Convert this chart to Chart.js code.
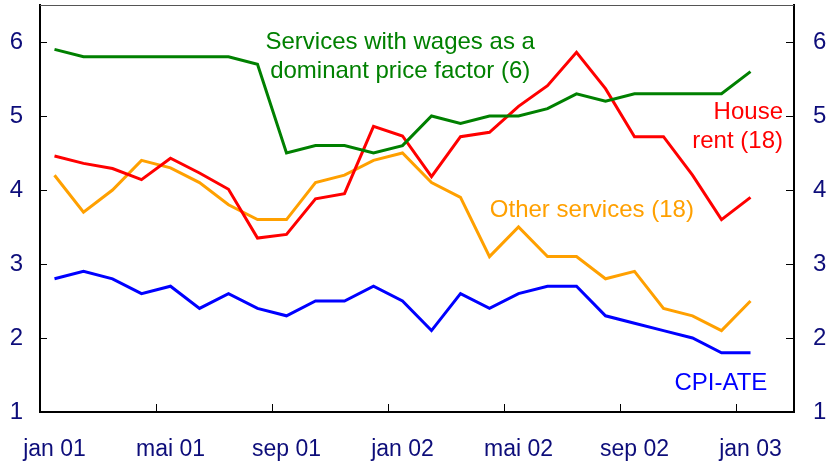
<!DOCTYPE html>
<html>
<head>
<meta charset="utf-8">
<script src="https://cdn.jsdelivr.net/npm/chart.js@4"></script>
<style>
  html, body { margin: 0; padding: 0; background: #fff; }
</style>
</head>
<body>
<canvas id="chart" width="828" height="463"></canvas>
<script>
// months on the x axis (last one is only room on the right)
const months = [
    'jan 01', 'feb 01', 'mar 01', 'apr 01', 'mai 01', 'jun 01', 'jul 01', 'aug 01', 'sep 01', 'okt 01', 'nov 01', 'des 01',
    'jan 02', 'feb 02', 'mar 02', 'apr 02', 'mai 02', 'jun 02', 'jul 02', 'aug 02', 'sep 02', 'okt 02', 'nov 02', 'des 02',
    'jan 03', 'feb 03'
];
const wagesServices = [5.9, 5.8, 5.8, 5.8, 5.8, 5.8, 5.8, 5.7, 4.5, 4.6, 4.6, 4.5, 4.6, 5.0, 4.9, 5.0, 5.0, 5.1, 5.3, 5.2, 5.3, 5.3, 5.3, 5.3, 5.6];
const houseRent = [4.46, 4.36, 4.29, 4.14, 4.43, 4.23, 4.01, 3.35, 3.4, 3.88, 3.95, 4.86, 4.73, 4.18, 4.72, 4.78, 5.13, 5.41, 5.86, 5.37, 4.72, 4.72, 4.2, 3.6, 3.9];
const otherServices = [4.2, 3.7, 4.0, 4.4, 4.3, 4.1, 3.8, 3.6, 3.6, 4.1, 4.2, 4.4, 4.5, 4.1, 3.9, 3.1, 3.5, 3.1, 3.1, 2.8, 2.9, 2.4, 2.3, 2.1, 2.5];
const cpiAte = [2.8, 2.9, 2.8, 2.6, 2.7, 2.4, 2.6, 2.4, 2.3, 2.5, 2.5, 2.7, 2.5, 2.1, 2.6, 2.4, 2.6, 2.7, 2.7, 2.3, 2.2, 2.1, 2.0, 1.8, 1.8];
const yTicks = [1, 2, 3, 4, 5, 6];
const labelEvery = 4;

const navy = '#0d0d7a';
const fontFamily = '"Liberation Sans", Arial, sans-serif';

// text labels placed in data units (x = month index, y = value)
const notes = [
    { lines: ['Services with wages as a', 'dominant price factor (6)'], x: 11.92, y: 5.99, color: '#008000', align: 'center' },
    { lines: ['House', 'rent (18)'], x: 25.12, y: 5.05, color: '#ff0000', align: 'right' },
    { lines: ['Other services (18)'], x: 18.53, y: 3.73, color: '#ffa000', align: 'center' },
    { lines: ['CPI-ATE'], x: 22.98, y: 1.39, color: '#0000ff', align: 'center' }
];

const tickMarks = {
    id: 'tickMarks',
    afterDatasetsDraw(chart) {
        const { ctx, chartArea, scales } = chart;
        ctx.save();
        // thin top border
        ctx.strokeStyle = '#555';
        ctx.lineWidth = 1;
        ctx.beginPath();
        ctx.moveTo(chartArea.left, chartArea.top + 0.5);
        ctx.lineTo(chartArea.right, chartArea.top + 0.5);
        ctx.stroke();

        ctx.strokeStyle = '#000';
        const x = scales.x;
        const half = (x.getPixelForValue(1) - x.getPixelForValue(0)) / 2;
        months.forEach((m, i) => {
            if (i === 0 || i % labelEvery !== 0) return;
            const px = Math.round(x.getPixelForValue(i) - half) + 0.5;
            ctx.beginPath();
            ctx.moveTo(px, chartArea.bottom);
            ctx.lineTo(px, chartArea.bottom - 8);
            ctx.stroke();
        });
        yTicks.forEach(v => {
            const py = Math.round(scales.y.getPixelForValue(v)) + 0.5;
            ctx.beginPath();
            ctx.moveTo(chartArea.left, py);
            ctx.lineTo(chartArea.left + 7, py);
            ctx.moveTo(chartArea.right, py);
            ctx.lineTo(chartArea.right - 8, py);
            ctx.stroke();
        });
        ctx.restore();
    }
};

const noteLabels = {
    id: 'noteLabels',
    afterDatasetsDraw(chart) {
        const { ctx, scales } = chart;
        ctx.save();
        ctx.font = '24px ' + fontFamily;
        ctx.textBaseline = 'middle';
        notes.forEach(n => {
            const px = scales.x.getPixelForValue(n.x);
            const py = scales.y.getPixelForValue(n.y);
            ctx.fillStyle = n.color;
            ctx.textAlign = n.align;
            n.lines.forEach((t, k) => ctx.fillText(t, px, py + k * 29));
        });
        ctx.restore();
    }
};

const makeSet = (data, color) => ({
    data: data,
    borderColor: color,
    backgroundColor: color,
    borderWidth: 3,
    pointRadius: 0,
    tension: 0,
    fill: false,
    yAxisID: 'y'
});

const fitY = (width) => (scale) => {
    scale.width = width;
    scale.paddingTop = 0;
    scale.paddingBottom = 0;
};

const ctx = document.getElementById('chart');
new Chart(ctx, {
    type: 'line',
    data: {
        labels: months,
        datasets: [
            makeSet(wagesServices, '#008000'),
            makeSet(houseRent, '#ff0000'),
            makeSet(otherServices, '#ffa000'),
            makeSet(cpiAte, '#0000ff')
        ]
    },
    options: {
        responsive: false,
        devicePixelRatio: 1,
        animation: false,
        layout: { padding: { top: 5, left: 0, right: 0, bottom: 0 } },
        plugins: { legend: { display: false }, tooltip: { enabled: false } },
        scales: {
            x: {
                type: 'category',
                offset: true,
                grid: { display: false, drawTicks: false },
                border: { display: true, color: '#000', width: 2 },
                afterFit: (scale) => {
                    scale.height = 51;
                    scale.paddingLeft = 0;
                    scale.paddingRight = 0;
                },
                ticks: {
                    autoSkip: false,
                    maxRotation: 0,
                    padding: 24,
                    color: navy,
                    font: { family: fontFamily, size: 23 },
                    callback: function (value, index) {
                        return index % labelEvery === 0 && index < months.length - 1 ? this.getLabelForValue(value) : '';
                    }
                }
            },
            y: {
                position: 'left',
                min: 1,
                max: 6.5,
                grid: { display: false, drawTicks: false },
                border: { display: true, color: '#000', width: 2 },
                afterFit: fitY(40),
                afterBuildTicks: (scale) => { scale.ticks = yTicks.map(v => ({ value: v })); },
                ticks: { padding: 17, color: navy, font: { family: fontFamily, size: 24 } }
            },
            y2: {
                position: 'right',
                min: 1,
                max: 6.5,
                grid: { display: false, drawTicks: false },
                border: { display: true, color: '#000', width: 2 },
                afterFit: fitY(34),
                afterBuildTicks: (scale) => { scale.ticks = yTicks.map(v => ({ value: v })); },
                ticks: { padding: 19, color: navy, font: { family: fontFamily, size: 24 } }
            }
        }
    },
    plugins: [tickMarks, noteLabels]
});
</script>
</body>
</html>
